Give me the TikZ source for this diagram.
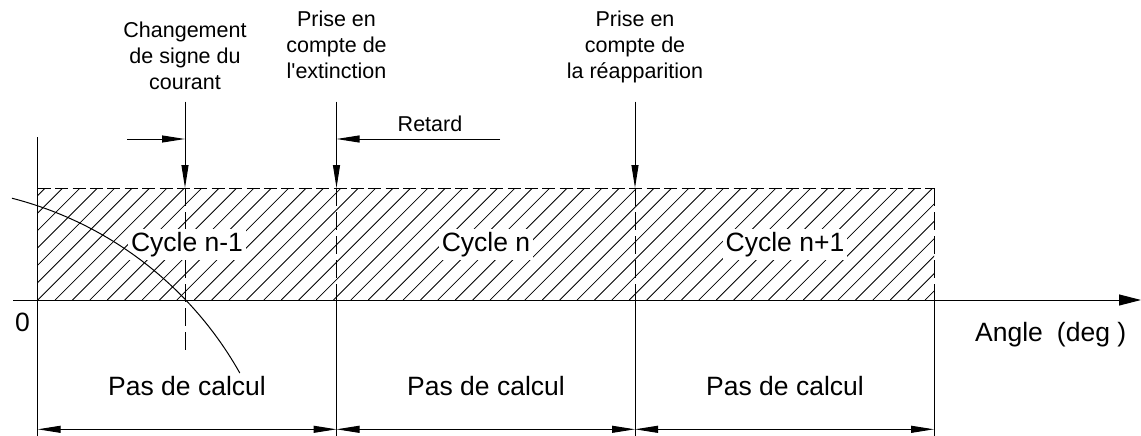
\documentclass[tikz,border=0pt]{standalone}
\usepackage{fontspec}
\setmainfont{Liberation Sans}[Ligatures=TeXOff]
\usetikzlibrary{arrows.meta}
\begin{document}
\begin{tikzpicture}[x=1pt,y=-1pt,
  ln/.style={line width=1pt, draw=black},
  hatchln/.style={line width=0.8pt, draw=black},
  dshtop/.style={ln, dash pattern=on 13pt off 4.4pt},
  dshv/.style={ln, dash pattern=on 18pt off 6pt},
  tip/.style={-{Triangle[length=23pt,width=7pt]}},
  dim/.style={{Triangle[length=23pt,width=7pt]}-{Triangle[length=23pt,width=7pt]}},
  axtip/.style={-{Triangle[length=22pt,width=11pt]}},
  toplbl/.style={font=\fontsize{21.5}{26}\selectfont, align=center, anchor=base, inner sep=0pt},
  big/.style={font=\fontsize{26.5}{30}\selectfont, anchor=base, inner sep=0pt},
  cyc/.style={big, fill=white, inner sep=3pt}]
\useasboundingbox (0,0) rectangle (1141,436);

% hatching
\begin{scope}
  \clip (37.7,188) rectangle (934,300);
  \foreach \k in {-7,...,52} \draw[hatchln] ({37.7+17.4*\k},300) -- ++(112,-112);
\end{scope}

% key coordinates
\coordinate (L0) at (37.7,137);  \coordinate (L1) at (37.7,436);
\coordinate (TL) at (37.7,188);  \coordinate (TR) at (934,188);
\coordinate (axL) at (13,300);   \coordinate (axR) at (1141,300);
\coordinate (cA) at (185,101.7); \coordinate (cT) at (185,188); \coordinate (cB) at (185,352);
\coordinate (eA) at (336.5,101.7); \coordinate (eT) at (336.5,188); \coordinate (eX) at (336.5,300); \coordinate (eB) at (336.5,436);
\coordinate (rA) at (635,101.7); \coordinate (rT) at (635,188); \coordinate (rX) at (635,300); \coordinate (rB) at (635,436);
\coordinate (qT) at (934,188); \coordinate (qX) at (934,300); \coordinate (qB) at (934,436);
\coordinate (hc) at (127,139); \coordinate (hcE) at (185,139);
\coordinate (hr) at (500,139); \coordinate (hrE) at (336.5,139);
\coordinate (d0) at (37.7,429.3); \coordinate (d1) at (336.5,429.3);
\coordinate (d2) at (635,429.3); \coordinate (d3) at (934,429.3);
\coordinate (k0) at (11.9,198.2); \coordinate (k1) at (239.8,373);

% dashed outline and verticals
\draw[dshtop] (TL) -- (TR);
\draw[dshv] (cT) -- (cB);
\draw[dshv] (eT) -- (eX);
\draw[dshv] (rT) -- (rX);
\draw[dshv] (qT) -- (qX);

% labels inside hatch
\node[cyc] (c1) at (187,251.7) {Cycle n-1};
\node[cyc] (c2) at (486,251.7) {Cycle n};
\node[cyc] (c3) at (785,251.7) {Cycle n+1};

% solid lines
\draw[ln] (L0) -- (L1);
\draw[ln, axtip] (axL) -- (axR);
\draw[ln] (eX) -- (eB);
\draw[ln] (rX) -- (rB);
\draw[ln] (qX) -- (qB);

% arrows
\draw[ln, tip] (cA) -- (cT);
\draw[ln, tip] (eA) -- (eT);
\draw[ln, tip] (rA) -- (rT);
\draw[ln, tip] (hc) -- (hcE);
\draw[ln, tip] (hr) -- (hrE);
\draw[ln, dim] (d0) -- (d1);
\draw[ln, dim] (d1) -- (d2);
\draw[ln, dim] (d2) -- (d3);

% current curve
\draw[ln] (k0) .. controls (108.5,223.0) and (190.9,286.1) .. (k1);

% text (multi-line nodes anchored at the baseline of their last line)
\node[toplbl] (chg) at (185,89) {Changement\\de signe du\\courant};
\node[toplbl] (ext) at (336.5,79) {Prise en\\compte de\\l'extinction};
\node[toplbl] (rea) at (635,78) {Prise en\\compte de\\la réapparition};
\node[toplbl] (ret) at (430,131) {Retard};
\node[big] (p1) at (187,395) {Pas de calcul};
\node[big] (p2) at (486,395) {Pas de calcul};
\node[big] (p3) at (785,395) {Pas de calcul};
\node[big] (zero) at (22.5,331.7) {0};
\node[big, anchor=base west] (ang) at (975,341.7) {Angle\hspace{14pt}(deg\hspace{7.5pt})};
\end{tikzpicture}
\end{document}
